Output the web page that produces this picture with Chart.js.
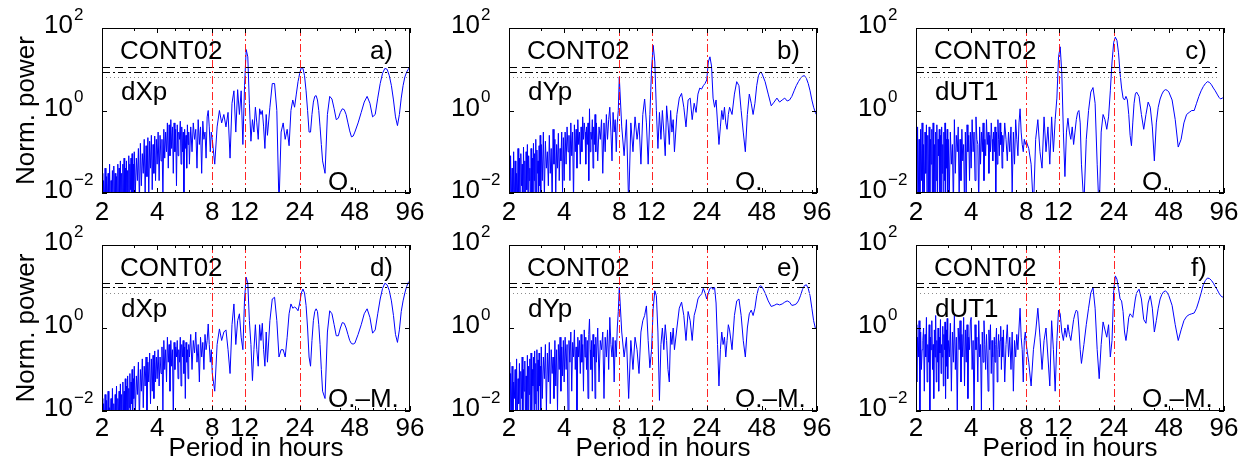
<!DOCTYPE html>
<html><head><meta charset="utf-8">
<script src="https://cdn.jsdelivr.net/npm/chart.js@4.4.1/dist/chart.umd.min.js"></script>
<style>
html,body{margin:0;padding:0;background:#fff;}
body{width:1245px;height:475px;position:relative;overflow:hidden;}
.panel{position:absolute;}
.panel canvas{display:block;}
</style></head><body>
<script>
// ---------------- data ----------------
const periods = [
 2.00,2.02,2.04,2.06,2.08,2.10,2.12,2.14,2.16,2.18,2.20,2.22,2.24,2.26,2.28,2.30,2.32,2.34,2.36,2.38,
 2.40,2.42,2.44,2.46,2.48,2.50,2.52,2.54,2.56,2.58,2.60,2.62,2.64,2.66,2.68,2.70,2.72,2.74,2.76,2.78,
 2.80,2.82,2.84,2.86,2.88,2.90,2.92,2.94,2.96,2.98,
 3.00,3.04,3.08,3.12,3.16,3.20,3.24,3.28,3.32,3.36,3.40,3.44,3.48,3.52,3.56,3.60,3.64,3.68,3.72,3.76,
 3.80,3.84,3.88,3.92,3.96,
 4.00,4.05,4.10,4.15,4.20,4.25,4.30,4.35,4.40,4.45,4.50,4.55,4.60,4.65,4.70,4.75,4.80,4.85,4.90,4.95,
 5.00,5.05,5.10,5.15,5.20,5.25,5.30,5.35,5.40,5.45,5.50,5.55,5.60,5.65,5.70,5.75,5.80,5.85,5.90,5.95,
 6.0,6.1,6.2,6.3,6.4,6.5,6.6,6.7,6.8,6.9,7.0,7.1,7.2,7.3,7.4,7.5,7.6,7.7,7.8,7.9,
 8.0,8.25,8.5,8.75,9.0,9.25,9.5,9.75,10.0,10.25,10.5,10.75,11.0,11.25,11.5,11.75,
 12.0,12.25,12.5,12.75,13.0,13.25,13.5,13.75,14.0,14.25,14.5,14.75,15.0,15.25,15.5,15.75,
 16,16.5,17,17.5,18,18.5,19,19.5,20,20.5,21,21.5,22,22.5,23,23.5,
 24,24.5,25,25.5,26,26.5,27,27.5,28,28.5,29,29.5,30,30.5,31,31.5,
 32,33,34,35,36,37,38,39,40,41,42,43,44,45,46,47,
 48,50,52,54,56,58,60,62,64,66,68,70,72,74,76,78,80,82,84,86,88,90,92,94,96
];
// a) dXp, observed
const powerXpObs = [
 0.03,0.003,0.02,0.005,0.04,0.002,0.025,0.006,0.03,0.004, 0.05,0.003,0.02,0.008,0.035,0.002,0.045,0.005,0.03,0.003,
 0.025,0.007,0.05,0.002,0.04,0.006,0.06,0.003,0.03,0.009, 0.05,0.004,0.07,0.002,0.04,0.01,0.06,0.005,0.035,0.003,
 0.08,0.006,0.05,0.012,0.07,0.004,0.09,0.008,0.05,0.003,
 0.1,0.01,0.07,0.02,0.12,0.006,0.16,0.015,0.09,0.03,0.2,0.01,0.14,0.025,0.22,0.008,0.18,0.04,0.25,0.012,0.15,0.03,0.24,0.02,0.2,
 0.05,0.3,0.02,0.25,0.06,0.2,0.008,0.35,0.07,0.3, 0.1,0.5,0.04,0.45,0.08,0.6,0.12,0.4,0.03,0.5,
 0.1,0.35,0.015,0.45,0.08,0.3,0.2,0.55,0.05,0.4, 0.1,0.3,0.006,0.35,0.12,0.25,0.04,0.45,0.15,0.3,
 0.05,0.4,0.1,0.5,0.2,0.35,0.04,0.6,0.15,0.4,0.03,0.55,0.2,0.3,0.07,0.7,1.0,0.4,0.1,0.3,
 0.2,0.05,0.4,1.0,0.5,0.8,0.4,0.9, 0.07,1.5,3.0,0.3,3.2,0.8,3.0,0.15,
 4,30,20,1.5,0.18,0.6,0.3,1.2, 0.5,0.2,1.1,0.8,1.0,0.4,0.12,0.8,
 0.25,1.2,4.5,4.5,1.0,0.005,0.3,0.5, 0.2,0.35,0.14,1.0,1.8,1.2,2.5,5,
 8,11,10.5,7,3,1.0,0.3,0.3, 0.8,1.6,2.2,2.3,1.8,1.0,0.4,0.15,
 0.06,0.03,0.8,2.2,1.9,1.1,0.6,0.65, 0.9,1.1,1.05,0.8,0.5,0.32,0.23,0.24,
 0.3,0.5,0.9,1.6,2.2,1.5,0.7,0.8,2,4.5, 8,10.5,10,7,4,1.8,0.7,0.43,0.8,2, 4,6.5,8.5,10,11.5
];
// b) dYp, observed
const powerYpObs = [
 0.05,0.003,0.08,0.006,0.04,0.002,0.1,0.005,0.06,0.01, 0.03,0.004,0.12,0.006,0.07,0.002,0.09,0.015,0.05,0.004,
 0.13,0.008,0.06,0.003,0.1,0.012,0.15,0.005,0.08,0.02, 0.04,0.003,0.12,0.01,0.07,0.005,0.16,0.02,0.09,0.004,
 0.2,0.01,0.11,0.03,0.06,0.006,0.14,0.015,0.25,0.01,
 0.15,0.02,0.3,0.008,0.18,0.04,0.1,0.015,0.25,0.03,0.12,0.006,0.35,0.05,0.2,0.01,0.15,0.04,0.28,0.02,0.12,0.06,0.3,0.01,0.22,
 0.02,0.3,0.05,0.4,0.1,0.25,0.02,0.5,0.08,0.3, 0.006,0.45,0.1,0.35,0.04,0.6,0.15,0.3,0.05,0.4,
 0.1,0.7,0.2,0.5,0.3,0.05,0.4,0.15,0.5,0.02, 1.1,0.1,0.3,0.2,0.6,0.04,0.4,0.15,0.8,0.1,
 0.5,0.06,0.4,0.2,0.6,0.03,0.5,0.1,0.8,0.2,0.6,1.2,0.3,0.06,0.9,0.3,0.6,0.1,0.5,1.0,
 6.5,0.4,0.08,0.6,0.005,0.5,0.1,0.7, 0.2,0.5,0.05,0.8,1.9,0.5,0.05,0.8,
 10,38,15,1,0.12,0.9,0.2,1.0, 0.3,0.08,1.3,0.5,0.15,1.0,0.3,0.6,
 0.1,0.8,2.0,2.6,1.2,0.4,1.8,2.0, 0.6,1.5,0.9,2.5,3.5,3.3,4,4.5,
 5.5,15,20,12,2,1.2,1.8,0.5, 0.15,0.4,1.0,0.6,1.2,0.5,0.35,0.8,
 1.2,0.8,2.5,5,4,1,0.3,0.1, 0.8,2.5,1.5,0.8,1.5,4,7,8.5,
 8,5,2.5,1.3,1.6,2,1.6,1.8,2,1.7, 1.8,2.2,3,4,5,6,6.8,7,6,4.5, 3,1.8,1.2,0.9,0.75
];
// c) dUT1, observed
const powerUT1Obs = [
 0.3,0.003,0.4,0.01,0.2,0.002,0.35,0.02,0.5,0.004, 0.15,0.006,0.3,0.03,0.45,0.002,0.25,0.01,0.4,0.005,
 0.2,0.05,0.35,0.003,0.5,0.01,0.15,0.004,0.3,0.02, 0.45,0.006,0.2,0.08,0.35,0.003,0.25,0.01,0.4,0.03,
 0.15,0.005,0.3,0.02,0.5,0.008,0.2,0.04,0.35,0.003,
 0.2,0.01,0.3,0.05,0.15,0.004,0.6,0.03,0.25,0.1,0.4,0.008,0.2,0.02,0.35,0.06,0.15,0.004,0.3,0.01,0.45,0.1,0.25,0.02,0.3,
 0.04,0.6,0.1,0.3,0.02,0.7,0.2,0.15,0.005,0.4, 0.05,0.3,0.1,0.5,0.02,0.2,0.08,0.6,0.15,0.3,
 0.03,0.25,0.1,0.5,0.2,0.06,0.3,0.1,0.4,0.01, 0.3,0.05,0.6,0.2,0.08,0.5,0.15,0.3,0.04,0.25,
 0.1,0.5,0.2,0.06,0.3,0.1,0.4,0.01,0.3,0.05,0.6,0.2,0.08,0.5,1.1,0.3,0.15,0.1,0.2,0.15,
 0.18,0.12,0.05,0.004,0.2,0.6,0.1,0.04, 0.7,0.1,0.4,0.05,0.7,0.1,0.6,2,
 20,35,8,0.3,0.025,0.3,0.65,0.3, 0.2,0.4,0.15,0.3,0.6,0.9,1.0,0.5,
 0.05,0.005,0.2,1.0,2.8,3.6,1.5,0.05, 0.003,0.3,0.8,0.6,0.35,0.7,3,15,
 45,60,50,25,8,3.5,2,1.8, 2.2,1.8,0.8,0.25,0.14,0.5,1.5,2.5,
 2.8,2.2,0.8,0.35,0.8,1.6,1.2,0.4, 0.06,0.5,1.2,1.9,2.5,3.0,3.2,3.1,
 2.8,1.8,0.6,0.13,0.2,0.5,0.8,0.9,1.0,1.0, 1.5,2.2,3,3.8,4.5,5,4.8,4.2,3.5,3, 2.5,2.1,1.9,2.0,2.1
];
// d) dXp, observed minus model
const powerXpOmM = [
 0.02,0.002,0.015,0.004,0.025,0.001,0.018,0.003,0.03,0.002, 0.012,0.005,0.02,0.002,0.035,0.004,0.015,0.003,0.025,0.006,
 0.04,0.002,0.02,0.007,0.03,0.003,0.045,0.005,0.025,0.002, 0.05,0.008,0.03,0.004,0.06,0.003,0.04,0.01,0.07,0.005,
 0.035,0.012,0.08,0.004,0.05,0.015,0.1,0.006,0.06,0.02,
 0.12,0.008,0.07,0.025,0.15,0.005,0.1,0.03,0.18,0.012,0.12,0.04,0.2,0.01,0.15,0.05,0.25,0.015,0.18,0.03,0.22,0.02,0.28,0.05,0.2,
 0.06,0.3,0.04,0.2,0.08,0.35,0.01,0.5,0.1,0.3, 0.05,0.6,0.15,0.4,0.03,0.5,0.12,0.3,0.005,0.45,
 0.1,0.35,0.2,0.5,0.06,0.3,0.15,0.6,0.04,0.4, 0.2,0.5,0.08,0.35,0.02,0.45,0.15,0.3,0.06,0.4,
 0.2,0.7,0.1,0.5,0.25,0.8,0.15,0.4,0.05,0.6,0.2,0.45,0.1,0.7,0.3,0.5,1.25,0.4,0.15,0.3,
 0.08,0.03,0.4,0.95,0.5,0.8,0.9,0.3, 0.08,1.2,3.8,0.4,1.5,2.2,0.6,0.3,
 5,16.7,12,1.5,0.4,0.054,0.3,1.2, 0.3,0.12,1.2,0.5,1.3,0.3,0.12,0.8,
 0.15,1.5,5,5.5,1.5,0.2,0.3,0.3, 0.2,0.6,2.2,3.8,3,3.2,3,2.6,
 4,7,8.7,7,3.5,1,0.2,0.12, 0.5,1.5,2.5,2.9,2.5,1.2,0.4,0.1,
 0.03,0.02,0.8,2.6,2.2,1.2,0.65,0.65, 1.0,1.35,1.3,1.0,0.7,0.5,0.42,0.41,
 0.43,0.7,1.2,2.2,2.9,1.8,0.75,0.9,2.2,5, 9,12,11,8,4.5,2,0.7,0.45,0.9,2.5, 4.5,7,10,12.5,13.8
];
// e) dYp, observed minus model
const powerYpOmM = [
 0.15,0.003,0.08,0.01,0.12,0.002,0.05,0.02,0.1,0.004, 0.18,0.006,0.06,0.015,0.14,0.003,0.09,0.02,0.2,0.005,
 0.1,0.03,0.16,0.004,0.07,0.01,0.22,0.006,0.12,0.025, 0.18,0.003,0.25,0.01,0.1,0.04,0.2,0.008,0.28,0.015,
 0.14,0.005,0.3,0.03,0.17,0.01,0.25,0.04,0.12,0.006,
 0.35,0.02,0.2,0.06,0.4,0.01,0.25,0.05,0.45,0.015,0.3,0.08,0.2,0.02,0.5,0.04,0.3,0.01,0.4,0.1,0.6,0.03,0.35,0.07,0.5,
 0.05,0.6,0.1,0.4,0.01,0.5,0.15,0.8,0.03,0.45, 0.2,0.9,0.1,0.35,0.005,0.6,0.2,0.5,0.08,0.7,
 0.15,0.4,0.03,0.9,0.2,0.6,0.1,0.5,0.02,0.7, 1.65,0.3,0.1,0.5,0.03,0.7,0.2,0.4,0.02,0.6,
 0.15,1.0,0.05,0.5,0.3,0.8,0.02,0.6,0.2,0.9,0.1,1.8,0.4,0.2,0.6,0.05,0.5,0.2,1.0,2.5,
 9.6,0.8,0.2,0.6,0.02,0.5,0.1,0.6, 0.3,0.08,0.8,1.5,2,3.4,0.5,0.11,
 0.3,3,7.9,6,0.8,0.018,0.4,1.0, 0.3,1.2,0.5,0.1,0.05,0.8,0.4,1.0,
 0.3,1.0,3,4.2,2,0.5,2.5,1.5, 0.5,2,3,5,6,6.5,9,7,
 5,7,9,9.5,8.5,9.5,4,0.4, 0.04,0.3,0.8,0.4,0.6,0.2,0.5,1.2,
 0.9,0.3,2,4.5,5,2,0.5,0.2, 1.0,2.2,2.7,2,3,6,9,10.4,
 10,7,4.5,3.3,3.5,3.8,3.6,3.8,4.2,4.5, 4.2,3.5,3.6,3.8,4.5,6,8.5,10.5,11,9, 6,3,1.5,1.0,0.9
];
// f) dUT1, observed minus model
const powerUT1OmM = [
 1.2,0.05,0.6,0.2,1.5,0.01,0.8,0.1,0.3,0.5, 1.0,0.03,0.7,0.2,1.8,0.05,0.4,0.15,1.2,0.008,
 0.6,0.3,1.5,0.1,0.4,0.02,0.9,0.2,2.0,0.05, 0.5,0.15,1.0,0.03,0.6,0.25,1.6,0.08,0.4,0.2,
 1.1,0.04,0.7,0.3,1.4,0.02,0.9,0.12,1.7,0.06,
 0.5,0.2,1.3,0.03,0.8,0.15,2.0,0.1,0.6,0.008,1.0,0.3,1.5,0.05,0.7,0.2,1.8,0.04,0.9,0.15,1.2,0.02,0.6,0.3,1.4,
 1.8,0.1,0.5,0.006,1.2,0.3,0.6,0.05,1.5,0.2, 0.4,0.01,0.8,0.15,1.5,0.4,0.1,0.7,0.2,0.03,
 0.9,0.3,1.2,0.08,0.5,0.2,0.006,0.6,0.15,0.4, 1.0,0.05,0.3,0.7,0.2,0.5,1.1,0.1,0.6,0.2,
 0.9,0.05,0.4,1.2,0.2,0.6,0.1,0.8,0.03,0.5,0.2,0.7,0.3,1.0,3,0.6,0.3,0.05,0.5,0.8,
 0.4,0.15,0.04,0.3,0.8,3,0.6,0.1, 0.5,1.0,0.2,0.04,1.5,0.3,0.03,0.5,
 2.7,2.2,0.8,0.5,1.0,0.6,1.2,0.7, 0.5,0.9,1.6,2.2,2.7,2.5,1.0,0.3,
 0.14,0.4,1.2,3,7,9.5,3,0.3, 0.06,0.4,1.4,0.9,0.6,1.2,0.2,0.5,
 8,18,15,9,5,4.5,2.5,0.8, 0.5,0.9,1.8,2.2,2.0,1.8,3,5,
 7,8.6,5,1.6,1.3,4,6,3, 0.8,1.5,3,5,6.5,7.5,7.8,7.2,
 6,3.5,1.2,0.5,0.9,1.5,1.9,2.1,2.2,2.3, 3,4.5,7,11,14,16,15.5,14,12,10, 8.5,7,6,5.6,5.6
];
const xTickValues = [2,4,8,12,24,48,96];
const xMinorTicks = [3,5,6,7,9,10,20,30,40,50,60,70,80,90];
const yTickExponents = [-2,0,2];
const tidalPeriods = [8,12,24];
const sigLevelsObs = [11.4,8.6,6.5];
const sigLevelsOmM = [11.9,9.6,6.9];
const sigLineEnds = [96,88,88,96,88,88];
const campaign = 'CONT02';
const panelLetters = ['a)','b)','c)','d)','e)','f)'];
const componentNames = ['dXp','dYp','dUT1','dXp','dYp','dUT1'];
const solutionNames = ['O.','O.','O.','O.\u2013M.','O.\u2013M.','O.\u2013M.'];
const yTitle = 'Norm. power';
const xTitle = 'Period in hours';
const panelSeries = [powerXpObs, powerYpObs, powerUT1Obs, powerXpOmM, powerYpOmM, powerUT1OmM];

// ---------------- layout / style ----------------
const FONT = '"Liberation Sans", Arial, Helvetica, sans-serif';
const FS = 26;
const PLOT_LEFT = [102, 509, 916];
const PLOT_W = 308;
const PLOT_TOP = [28, 245];
const PLOT_H = [165, 166];
const PAD_L = 100, PAD_T = 25, PAD_R = 20;
const XAXIS_H = [40, 64];
const SIG_STYLES = [
  {color: '#000', dash: [8, 5]},
  {color: '#000', dash: [8, 3, 2, 3]},
  {color: '#8c8c8c', dash: [1, 3]}
];

const decorPlugin = {
  id: 'decor',
  afterDatasetsDraw(chart) {
    const o = chart.options.plugins.decor;
    const ctx = chart.ctx, a = chart.chartArea;
    const xs = chart.scales.x, ys = chart.scales.y;
    ctx.save();
    ctx.lineWidth = 1;
    // significance levels
    o.sig.forEach((s, k) => {
      const py = Math.round(ys.getPixelForValue(s)) + 0.5;
      ctx.strokeStyle = SIG_STYLES[k].color; ctx.setLineDash(SIG_STYLES[k].dash);
      ctx.beginPath();
      ctx.moveTo(xs.getPixelForValue(2), py); ctx.lineTo(xs.getPixelForValue(o.sigEnd), py);
      ctx.stroke();
    });
    // tidal periods
    ctx.strokeStyle = 'rgba(255,0,0,0.85)'; ctx.setLineDash([8, 3, 2, 3]);
    tidalPeriods.forEach(t => {
      const px = Math.round(xs.getPixelForValue(t)) + 0.5;
      ctx.beginPath();
      ctx.moveTo(px, ys.getPixelForValue(100)); ctx.lineTo(px, ys.getPixelForValue(0.01));
      ctx.stroke();
    });
    ctx.setLineDash([]);
    ctx.strokeStyle = '#000';
    ctx.strokeRect(a.left + 0.5, a.top + 0.5, a.right - a.left - 1, a.bottom - a.top - 1);
    ctx.beginPath();
    const tick = (v, len) => {
      const px = Math.round(xs.getPixelForValue(v)) + 0.5;
      ctx.moveTo(px, a.bottom); ctx.lineTo(px, a.bottom - len);
      ctx.moveTo(px, a.top); ctx.lineTo(px, a.top + len);
    };
    xTickValues.forEach(v => tick(v, 5));
    xMinorTicks.forEach(v => tick(v, 3));
    yTickExponents.forEach(e => {
      const py = Math.round(ys.getPixelForValue(Math.pow(10, e))) + 0.5;
      ctx.moveTo(a.left, py); ctx.lineTo(a.left + 5, py);
      ctx.moveTo(a.right, py); ctx.lineTo(a.right - 5, py);
    });
    ctx.stroke();
    ctx.fillStyle = '#000';
    yTickExponents.forEach(e => {
      const py = ys.getPixelForValue(Math.pow(10, e));
      ctx.font = FS + 'px ' + FONT; ctx.textAlign = 'right'; ctx.textBaseline = 'middle';
      ctx.fillText('10', a.left - 29, py - 2);
      ctx.font = '17px ' + FONT; ctx.textAlign = 'left';
      ctx.fillText(e < 0 ? '\u2212' + (-e) : String(e), a.left - 28, py - 13);
    });
    ctx.font = FS + 'px ' + FONT; ctx.textBaseline = 'alphabetic';
    ctx.textAlign = 'left';
    ctx.fillText(campaign, a.left + 18, a.top + 31);
    ctx.fillText(o.component, a.left + 19, a.top + 72);
    ctx.fillText(o.solution, a.left + 226, a.top + 162);
    ctx.textAlign = 'right';
    ctx.fillText(o.letter, a.right - 17, a.top + 31);
    ctx.restore();
  }
};

for (let i = 0; i < 6; i++) {
  const col = i % 3, row = Math.floor(i / 3);
  const W = PAD_L + PLOT_W + PAD_R;
  const H = PAD_T + PLOT_H[row] + XAXIS_H[row];
  const div = document.createElement('div');
  div.className = 'panel';
  div.style.left = (PLOT_LEFT[col] - PAD_L) + 'px';
  div.style.top = (PLOT_TOP[row] - PAD_T) + 'px';
  div.style.width = W + 'px'; div.style.height = H + 'px';
  const cv = document.createElement('canvas');
  cv.width = W; cv.height = H; cv.style.width = W + 'px'; cv.style.height = H + 'px';
  div.appendChild(cv); document.body.appendChild(div);

  const series = panelSeries[i];
  new Chart(cv, {
    type: 'line',
    data: {datasets: [{
      data: periods.map((p, k) => ({x: p, y: series[k]})),
      borderColor: '#0000ff', borderWidth: 1, pointRadius: 0, tension: 0
    }]},
    options: {
      animation: false, responsive: false, maintainAspectRatio: false, devicePixelRatio: 1,
      layout: {padding: {left: 0, top: PAD_T, right: PAD_R, bottom: 0}},
      plugins: {
        legend: {display: false}, tooltip: {enabled: false},
        decor: {letter: panelLetters[i], component: componentNames[i], solution: solutionNames[i],
                sig: row === 0 ? sigLevelsObs : sigLevelsOmM, sigEnd: sigLineEnds[i]}
      },
      scales: {
        x: {
          type: 'logarithmic', min: 2, max: 96,
          afterBuildTicks: s => { s.ticks = xTickValues.map(v => ({value: v})); },
          afterFit: s => { s.height = XAXIS_H[row]; },
          ticks: {autoSkip: false, maxRotation: 0, minRotation: 0, padding: row === 0 ? 4 : 2,
                  color: '#000', font: {family: FONT, size: FS}, callback: v => String(v)},
          grid: {display: false, drawTicks: false}, border: {display: false},
          title: {display: row === 1, text: xTitle, color: '#000',
                  font: {family: FONT, size: FS}, padding: {top: 0, bottom: 11}}
        },
        y: {
          type: 'logarithmic', min: 0.01, max: 100,
          ticks: {display: false},
          afterFit: s => { s.width = PAD_L; },
          grid: {display: false, drawTicks: false}, border: {display: false},
          title: {display: col === 0, text: yTitle, color: '#000',
                  font: {family: FONT, size: FS}, padding: {top: 9, bottom: 0}}
        }
      }
    },
    plugins: [decorPlugin]
  });
}
</script>
</body></html>
